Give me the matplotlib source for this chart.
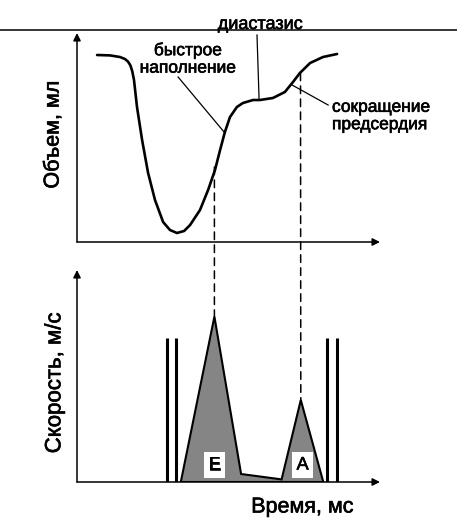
import matplotlib
matplotlib.use("Agg")
import matplotlib.pyplot as plt
import matplotlib.patheffects as pe
from matplotlib.patches import ConnectionPatch
from matplotlib.lines import Line2D

plt.rcParams["font.family"] = ["Liberation Sans", "DejaVu Sans"]

# left ventricular volume over one cycle (time, volume in arbitrary units)
volume_time = [6.7, 11.0, 14.3, 16.0, 17.0, 17.8, 18.4, 19.0, 20.0, 21.7, 23.7, 26.0,
               28.7, 31.0, 33.3, 35.7, 37.7, 41.0, 43.7, 46.0, 47.7, 49.3, 51.0, 53.3,
               55.3, 58.7, 61.0, 65.3, 69.3, 72.0, 74.3, 77.7, 82.0, 86.7]
volume_ml = [93.5, 93.3, 92.5, 91.5, 90.2, 88.3, 85.5, 81.0, 67.5, 51.0, 34.5, 21.0,
             10.0, 6.0, 4.5, 5.5, 8.5, 16.0, 26.0, 36.0, 46.0, 55.0, 62.5, 67.5,
             69.5, 71.0, 71.0, 72.0, 75.0, 80.0, 84.5, 89.5, 92.5, 94.0]

# transmitral flow velocity (E and A waves)
flow_time = [34.6, 45.8, 54.7, 68.2, 74.6, 82.1]
flow_speed = [0, 82.7, 4.0, 1.3, 41.0, 0]

# valve clicks (double bars)
valve_times = [30.1, 33.0, 83.2, 86.6]
valve_height = 72

# where the dashed guides start on the volume curve
e_guide = (45.8, 37.5)
a_guide = (74.5, 84.5)
e_peak = (45.8, 82.7)
a_peak = (74.6, 41.0)

W, H = 457, 531
fig = plt.figure(figsize=(W / 100, H / 100), dpi=100)

# slightly heavier text, like the scanned original
heavy = [pe.withStroke(linewidth=0.45, foreground="black")]

ax1 = fig.add_axes([77 / W, 1 - 242 / H, 303 / W, 209 / H])
ax2 = fig.add_axes([77 / W, 1 - 482 / H, 303 / W, 212 / H])
ax1.set_xlim(0, 101)
ax1.set_ylim(0, 104.5)
ax2.set_xlim(0, 101)
ax2.set_ylim(0, 106)

for ax in (ax1, ax2):
    for s in ax.spines.values():
        s.set_visible(False)
    ax.set_xticks([])
    ax.set_yticks([])
    ax.patch.set_alpha(0)
    arrow = dict(arrowstyle="-|>", lw=1.1, color="black", mutation_scale=11, shrinkA=0, shrinkB=0)
    ax.annotate("", xy=(1, 0), xytext=(0, 0), xycoords="axes fraction", arrowprops=arrow)
    ax.annotate("", xy=(0, 1), xytext=(0, 0), xycoords="axes fraction", arrowprops=arrow)

# volume curve
ax1.plot(volume_time, volume_ml, color="black", lw=1.9, solid_capstyle="round",
         solid_joinstyle="round")

# annotations on volume curve
ax1.text(37, 91.5, "быстрое\nнаполнение", ha="center", va="center", fontsize=12.5,
         path_effects=heavy)
ax1.plot([33.7, 49.3], [82.5, 54.5], color="black", lw=0.9)
ax1.text(61, 106.5, "диастазис", ha="center", va="baseline", fontsize=13, clip_on=False,
         path_effects=heavy)
ax1.plot([60, 60.7], [103.5, 71], color="black", lw=0.9)
ax1.text(85, 63, "сокращение\nпредсердия", ha="left", va="center", fontsize=12.5,
         clip_on=False, path_effects=heavy)
ax1.plot([71.7, 83.7], [78.5, 68.5], color="black", lw=0.9)

ax1.text(-0.079, 0.512, "Объем, мл", rotation=90, ha="center", va="center",
         fontsize=15.5, transform=ax1.transAxes, path_effects=heavy)

# flow velocity waves
ax2.fill(flow_time, flow_speed, facecolor="#858585", edgecolor="black", lw=1.5, joinstyle="miter")
ax2.vlines(valve_times, 0, valve_height, color="black", lw=2.2)

for label, t in [("E", e_peak[0]), ("A", a_peak[0] + 0.6)]:
    ax2.text(t, 8.5, label, ha="center", va="center", fontsize=13, path_effects=heavy,
             bbox=dict(facecolor="white", edgecolor="none", pad=3.5))

ax2.text(-0.073, 0.467, "Скорость, м/с", rotation=90, ha="center", va="center",
         fontsize=16, transform=ax2.transAxes, path_effects=heavy)
ax2.text(0.743, -0.118, "Время, мс", ha="center", va="center",
         fontsize=15.5, transform=ax2.transAxes, path_effects=heavy)

# dashed guides linking the volume curve to the wave peaks
for start, end in [(e_guide, e_peak), (a_guide, a_peak)]:
    con = ConnectionPatch(xyA=start, coordsA=ax1.transData, xyB=end, coordsB=ax2.transData,
                          color="black", lw=1.1, linestyle=(0, (5, 3.5)))
    fig.add_artist(con)

# rule across the top of the figure
fig.add_artist(Line2D([0, 1], [1 - 30 / H, 1 - 30 / H], color="black", lw=1.1,
                      transform=fig.transFigure))

fig.savefig("out.png", dpi=100)
